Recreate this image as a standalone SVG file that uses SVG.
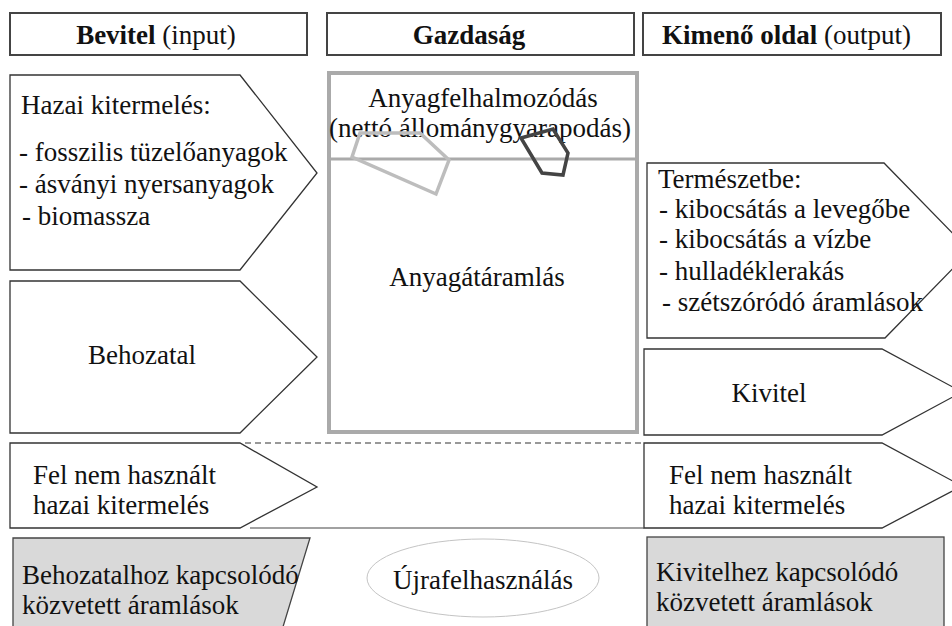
<svg xmlns="http://www.w3.org/2000/svg" width="952" height="626" viewBox="0 0 952 626">
<style>
text{font-family:"Liberation Serif","Times New Roman",serif;font-size:27px;fill:#111}
.b{font-weight:bold}
.mid{text-anchor:middle}
.hdr{fill:#fff;stroke:#444;stroke-width:2}
.arrow{fill:#fff;stroke:#333;stroke-width:1.3}
.grey{fill:#d9d9d9;stroke:#444;stroke-width:1.3}
</style>
<rect width="952" height="626" fill="#fff"/>
<g id="hdr-input">
<rect class="hdr" x="10" y="13" width="297" height="42"/>
<text x="156" y="44" class="mid"><tspan class="b">Bevitel</tspan> (input)</text>
</g>
<g id="hdr-economy">
<rect class="hdr" x="327" y="13" width="307" height="42"/>
<text x="469" y="44" class="mid b">Gazdaság</text>
</g>
<g id="hdr-output">
<rect class="hdr" x="643" y="13" width="298" height="42"/>
<text x="662" y="44"><tspan class="b">Kimenő oldal</tspan> (output)</text>
</g>
<g id="domestic-extraction">
<polygon class="arrow" points="10,75 240,75 317,173 240,270 10,270"/>
<text x="21" y="114">Hazai kitermelés:</text>
<text x="19" y="161">- fosszilis tüzelőanyagok</text>
<text x="19" y="193">- ásványi nyersanyagok</text>
<text x="22" y="225">- biomassza</text>
</g>
<g id="imports">
<polygon class="arrow" points="10,281 240,281 317,357 240,433 10,433"/>
<text x="142" y="364" class="mid">Behozatal</text>
</g>
<g id="unused-in">
<polygon class="arrow" points="10,443 240,443 317,487 240,528 10,528"/>
<text x="33" y="484">Fel nem használt</text>
<text x="33" y="514">hazai kitermelés</text>
</g>
<g id="indirect-imports">
<polygon class="grey" points="13,538 310,538 279,640 13,640"/>
<text x="22" y="584">Behozatalhoz kapcsolódó</text>
<text x="22" y="614">közvetett áramlások</text>
</g>
<g id="economy">
<rect x="329" y="73" width="308" height="359" fill="#fff" stroke="#aaa" stroke-width="4"/>
<line x1="329" y1="159" x2="637" y2="159" stroke="#aaa" stroke-width="3"/>
<text x="483" y="107" class="mid">Anyagfelhalmozódás</text>
<text x="480" y="137" class="mid">(nettó állománygyarapodás)</text>
<polygon points="360,133 420,133 449,160 436,194 352,157" fill="none" stroke="#bdbdbd" stroke-width="3.5"/>
<polygon points="521,138 553,129 568,153 563,175 542,173" fill="none" stroke="#444" stroke-width="3.5"/>
<text x="477" y="286" class="mid">Anyagátáramlás</text>
</g>
<g id="recycling">
<ellipse cx="483" cy="578" rx="116" ry="39" fill="#fff" stroke="#c4c4c4" stroke-width="1"/>
<text x="483" y="589" class="mid">Újrafelhasználás</text>
</g>
<g id="to-nature">
<polygon class="arrow" points="647,163 884,163 970,251 885,338 647,338"/>
<text x="658" y="188">Természetbe:</text>
<text x="659" y="218">- kibocsátás a levegőbe</text>
<text x="659" y="248">- kibocsátás a vízbe</text>
<text x="659" y="280">- hulladéklerakás</text>
<text x="662" y="311">- szétszóródó áramlások</text>
</g>
<g id="exports">
<polygon class="arrow" points="644,349 882,349 962,392 882,435 644,435"/>
<text x="769" y="402" class="mid">Kivitel</text>
</g>
<g id="unused-out">
<polygon class="arrow" points="644,443 882,443 962,486 882,528 644,528"/>
<text x="669" y="484">Fel nem használt</text>
<text x="669" y="514">hazai kitermelés</text>
</g>
<g id="indirect-exports">
<rect class="grey" x="647" y="537" width="297" height="100"/>
<text x="656" y="581">Kivitelhez kapcsolódó</text>
<text x="656" y="611">közvetett áramlások</text>
</g>
<g id="connectors">
<line x1="245" y1="443" x2="644" y2="443" stroke="#333" stroke-width="1.2" stroke-dasharray="6,4"/>
<line x1="250" y1="528" x2="644" y2="528" stroke="#444" stroke-width="1.2"/>
</g>
</svg>
